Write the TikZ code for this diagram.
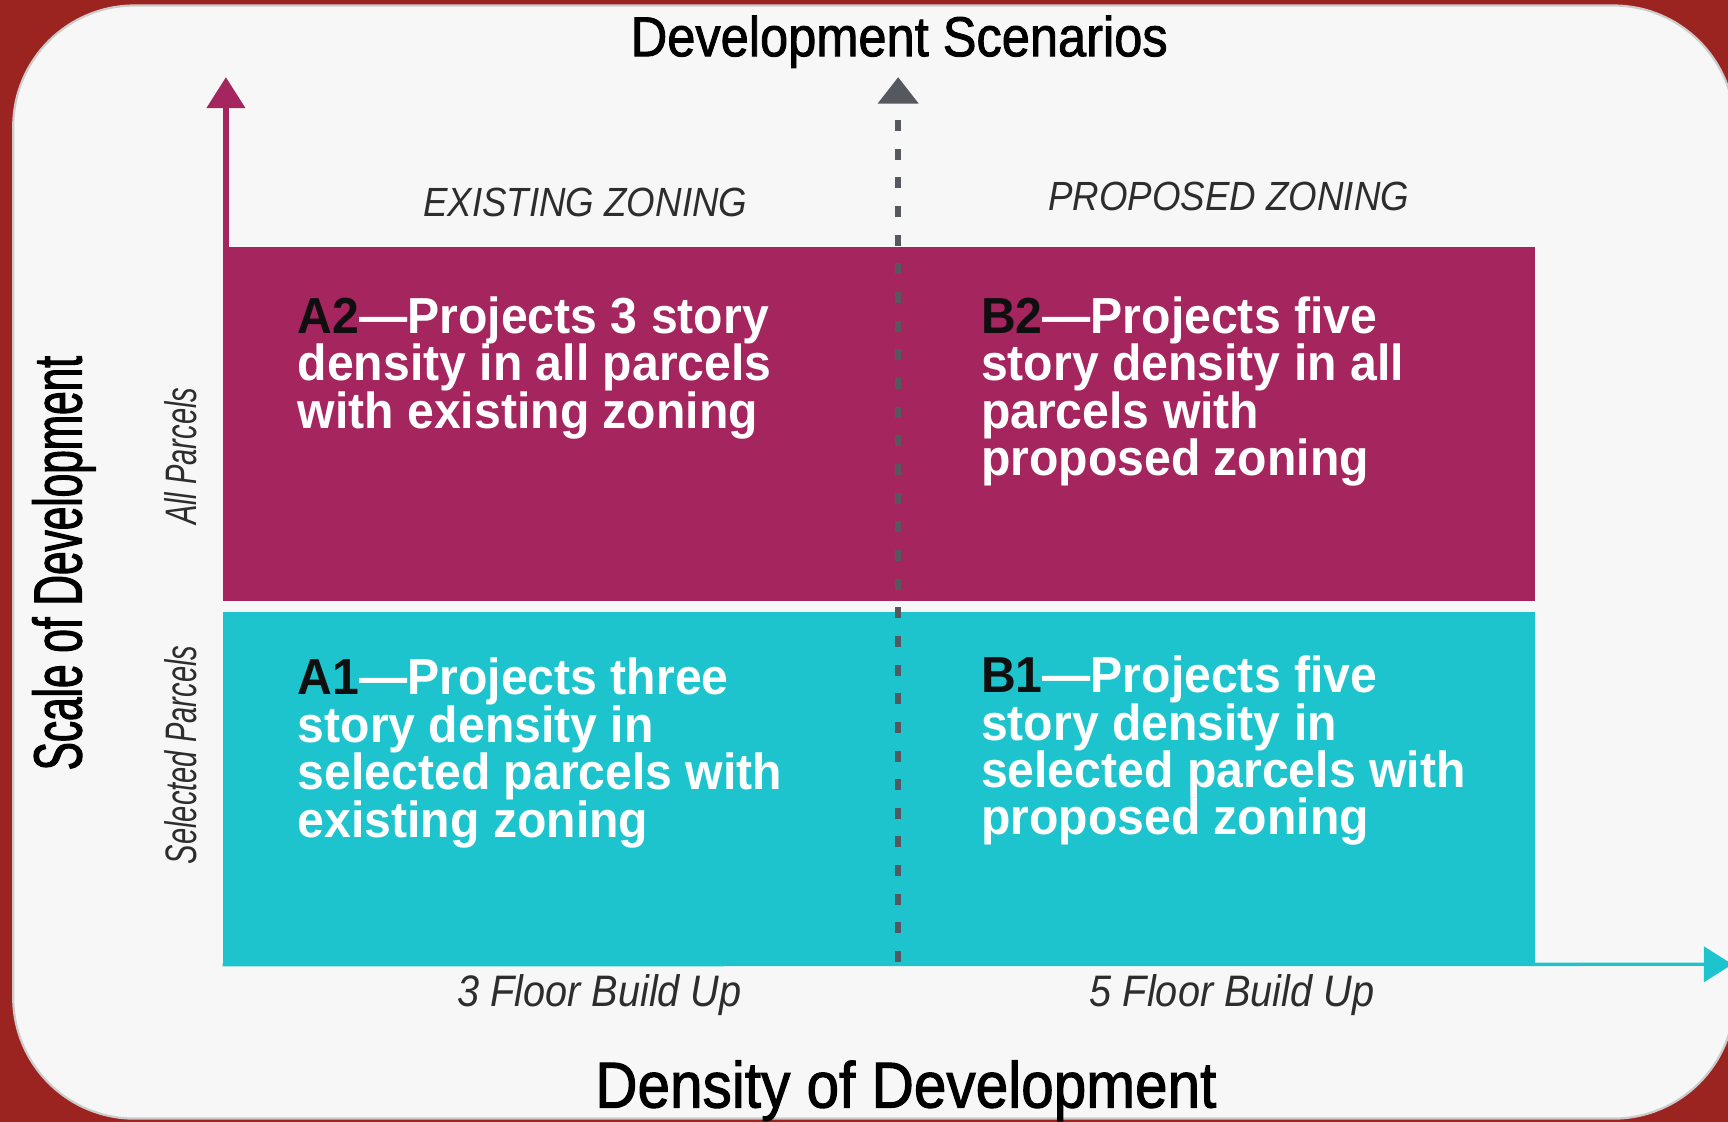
\documentclass[tikz,border=0pt]{standalone}
\usepackage{fontspec}
\usetikzlibrary{arrows.meta}
\usetikzlibrary{positioning}
\newfontfamily\fontTitle[FakeStretch=0.9,FakeBold=1.5]{Liberation Sans}
\newfontfamily\fontBlock[FakeStretch=0.95]{Liberation Sans}
\newfontfamily\fontItal[FakeStretch=0.9]{Liberation Sans}
\newfontfamily\fontSide[FakeStretch=0.66]{Liberation Sans}
\newfontfamily\fontScale[FakeStretch=0.62,FakeBold=1.5]{Liberation Sans}
\definecolor{bgred}{RGB}{155,35,32}
\definecolor{panelwhite}{RGB}{247,247,247}
\definecolor{allcol}{RGB}{165,37,94}
\definecolor{selcol}{RGB}{30,196,205}
\definecolor{scengray}{RGB}{85,88,94}
\definecolor{labelgray}{RGB}{45,45,45}
\definecolor{tagblack}{RGB}{15,15,15}
\tikzset{
    band/.style={rectangle,inner sep=0pt,minimum width=1191pt,anchor=north west},
    blocktext/.style={anchor=north west,inner sep=0pt,align=left,text=white,
        font={\fontBlock\bfseries\fontsize{46}{43}\selectfont\lineskiplimit-50pt}},
    zonelabel/.style={anchor=base,inner sep=0pt,text=labelgray,font=\fontItal\itshape\fontsize{37}{37}\selectfont},
    floorlabel/.style={anchor=base,inner sep=0pt,text=labelgray,font=\fontItal\itshape\fontsize{40}{40}\selectfont},
    sidelabel/.style={anchor=base,inner sep=0pt,rotate=90,text=labelgray,font=\fontSide\itshape\fontsize{40}{40}\selectfont},
    axistitle/.style={anchor=base,inner sep=0pt,text=black,font=\fontTitle\fontsize{#1}{#1}\selectfont},
}
\newcommand{\scentag}[1]{\textcolor{tagblack}{#1}}

\begin{document}
\begin{tikzpicture}[x=1pt,y=-1pt]
\useasboundingbox (0,0) rectangle (1568,1018);
\fill[bgred] (0,0) rectangle (1568,1018);
\draw[fill=panelwhite,draw=black!20,line width=2pt,rounded corners=110pt] (12,5) rectangle (1574,1015);
% quadrants
\node[band,fill=allcol,minimum height=321pt] (allrow) at (202,224) {};
\node[band,fill=selcol,minimum height=320pt] (selrow) at (202,555) {};
% axes
\coordinate (scaletip) at (205,70);
\coordinate (scentip) at (815,70);
\coordinate (scenfoot) at (815,873);
\coordinate (densitytip) at (1572,875);
\draw[allcol,line width=5pt,-{Triangle[width=34pt,length=28pt]}] ([xshift=3pt]allrow.north west) -- (scaletip);
\draw[selcol,line width=3pt,-{Triangle[width=32pt,length=26pt]}] (selrow.south west) -- (densitytip);
\draw[scengray,line width=5pt,dash pattern=on 10pt off 16pt,-{Triangle[width=36pt,length=24pt]}] (scenfoot) -- (scentip);
% titles
\node[axistitle=51] (scentitle) at (816,51) {Development Scenarios};
\node[axistitle=59] (denstitle) at (822,1005) {Density of Development};
\node[anchor=base,inner sep=0pt,rotate=90,font=\fontScale\fontsize{62}{62}\selectfont] (scaletitle) at (74,511) {Scale of Development};
% labels
\node[zonelabel] (exist) at (531,196) {EXISTING ZONING};
\node[zonelabel] (propo) at (1115,191) {PROPOSED ZONING};
\node[floorlabel] (three) at (544,913) {3 Floor Build Up};
\node[floorlabel] (five) at (1118,913) {5 Floor Build Up};
\node[sidelabel] (allp) at (178,414) {All Parcels};
\node[sidelabel] (selp) at (178,685) {Selected Parcels};
% scenarios
\node[blocktext] (a2) at (270,269) {\scentag{A2}—Projects 3 story\\density in all parcels\\with existing zoning};
\node[blocktext] (b2) at (890,269) {\scentag{B2}—Projects five\\story density in all\\parcels with\\proposed zoning};
\node[blocktext] (a1) at (270,597) {\scentag{A1}—Projects three\\story density in\\selected parcels with\\existing zoning};
\node[blocktext] (b1) at (890,595) {\scentag{B1}—Projects five\\story density in\\selected parcels with\\proposed zoning};
\end{tikzpicture}
\end{document}
